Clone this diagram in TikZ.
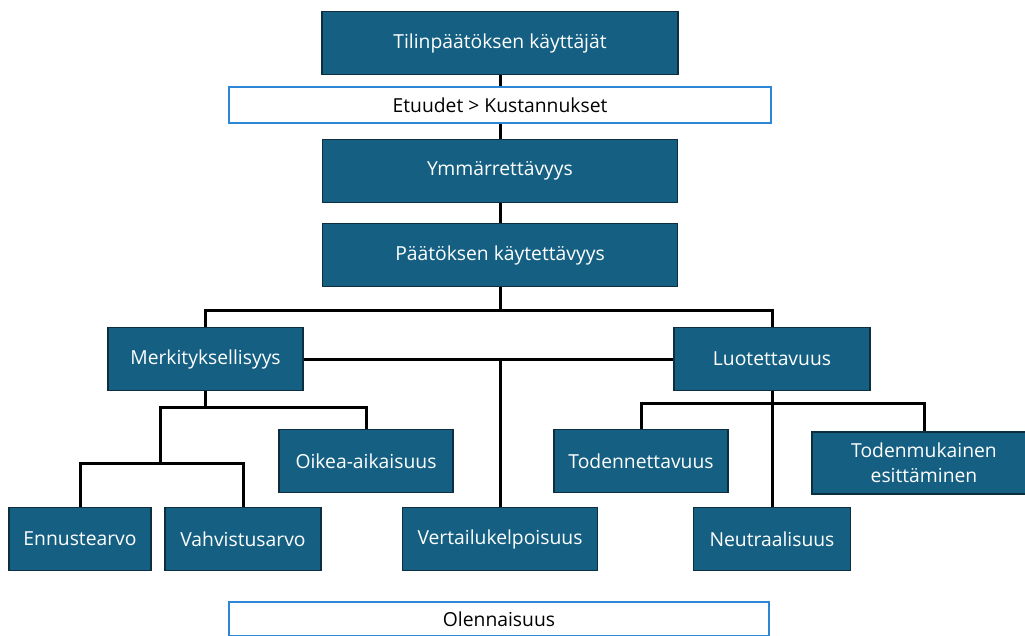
\documentclass[tikz,border=0pt]{standalone}
\usepackage{fontspec}
\setmainfont{Open Sans}
\usetikzlibrary{positioning}

\definecolor{boxfill}{HTML}{156082}
\definecolor{boxline}{HTML}{0C2E3F}
\definecolor{wline}{HTML}{2E86D6}

\begin{document}
\begin{tikzpicture}[x=1pt,y=-1pt,
	box/.style={draw=boxline,fill=boxfill,line width=1.5pt,text=white,
		inner sep=0pt,minimum height=63pt,align=center,
		font=\fontsize{19.3}{25}\selectfont},
	wbox/.style={draw=wline,fill=white,line width=2pt,text=black,
		inner sep=0pt,minimum height=36pt,
		font=\fontsize{19.3}{25}\selectfont},
	conn/.style={draw=black,line width=3pt}]

\useasboundingbox (0,0) rectangle (1025,635);

\def\mw{195}
\def\cw{174}

% chain at the top
\node[box,minimum width=356] (tilin) at (500,43) {Tilinpäätöksen käyttäjät};
\node[box,minimum width=355] (ymm) at (500,171) {Ymmärrettävyys};
\node[box,minimum width=355] (paat) at (500,255) {Päätöksen käytettävyys};

\draw[conn] (tilin.south) -- (ymm.north);
\draw[conn] (ymm.south) -- (paat.north);

\node[wbox,minimum width=542] (etu) at (500,105) {Etuudet > Kustannukset};

% second level
\node[box,minimum width=\mw] (merk) at (205.5,359) {Merkityksellisyys};
\node[box,minimum width=196] (luot) at (772,359) {Luotettavuus};

\coordinate (J) at (500,310);
\draw[conn] (paat.south) -- (J);
\draw[conn] (merk.north) |- (J) -| (luot.north);
\draw[conn] (merk.east) -- (luot.west);

% leaves
\node[box,minimum width=\cw] (oike) at (366,461) {Oikea-aikaisuus};
\node[box,minimum width=\cw] (tode) at (641,461) {Todennettavuus};
\node[box,minimum width=224,minimum height=62] (tmuk) at (924,463) {Todenmukainen\\esittäminen};
\node[box,minimum width=142] (enn) at (80,539) {Ennustearvo};
\node[box,minimum width=156] (vah) at (243,539) {Vahvistusarvo};
\node[box,minimum width=\mw] (vert) at (500,539) {Vertailukelpoisuus};
\node[box,minimum width=157] (neut) at (772,539) {Neutraalisuus};

\coordinate (Jm) at (160,407);
\coordinate (Jev) at (160,463);
\coordinate (Jl) at (772,403);

\draw[conn] (merk.south) -- (merk.south |- Jm);
\draw[conn] (Jev) |- (Jm) -| (oike.north);
\draw[conn] (enn.north) |- (Jev) -| (vah.north);

\draw[conn] (vert.north) -- (vert.north |- merk.east);

\draw[conn] (tode.north) |- (Jl) -| (tmuk.north);
\draw[conn] (luot.south) -- (neut.north);

\node[wbox,minimum width=540,minimum height=34] (olen) at (499,619) {Olennaisuus};

\end{tikzpicture}
\end{document}
